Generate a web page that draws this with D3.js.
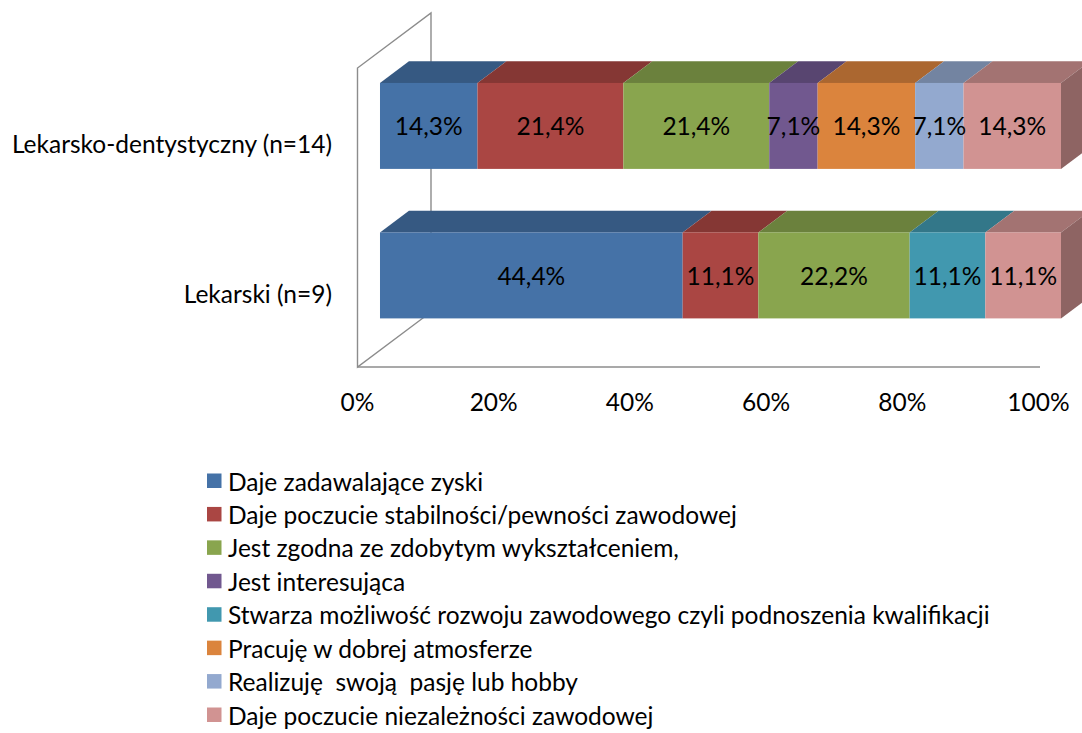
<!DOCTYPE html>
<html>
<head>
<meta charset="utf-8">
<script src="https://cdn.jsdelivr.net/npm/d3@7"></script>
<style>
  html, body { margin: 0; padding: 0; background: #fff; }
  svg { display: block; font-family: Lato, "Open Sans", sans-serif; }
  text { white-space: pre; }
</style>
</head>
<body>
<svg id="chart" width="1082" height="733"></svg>
<script>
// Study programmes (rows of the chart)
const categories = ["Lekarsko-dentystyczny (n=14)", "Lekarski (n=9)"];

// Reasons (series), in legend order
const seriesNames = [
  "Daje zadawalające zyski",
  "Daje poczucie stabilności/pewności zawodowej",
  "Jest zgodna ze zdobytym wykształceniem,",
  "Jest interesująca",
  "Stwarza możliwość rozwoju zawodowego czyli podnoszenia kwalifikacji",
  "Pracuję w dobrej atmosferze",
  "Realizuję  swoją  pasję lub hobby",
  "Daje poczucie niezależności zawodowej"
];

// Share of answers (%) per reason
const dentalValues  = [14.3, 21.4, 21.4, 7.1, 0, 14.3, 7.1, 14.3];
const medicalValues = [44.4, 11.1, 22.2, 0, 11.1, 0, 0, 11.1];

// Axis tick values (%)
const tickValues = [0, 20, 40, 60, 80, 100];

const seriesColors = ["#4572a7", "#aa4643", "#89a54e", "#71588f",
                      "#4198af", "#db843d", "#93a9cf", "#d19392"];

const fontSize = 24.5;

// ---- build table for the stack ----
const valuesByCategory = [dentalValues, medicalValues];
const table = categories.map((c, i) => {
  const row = { category: c };
  seriesNames.forEach((s, j) => { row[s] = valuesByCategory[i][j]; });
  return row;
});

const stacked = d3.stack()
  .keys(seriesNames)
  .offset(d3.stackOffsetExpand)(table);

const svg = d3.select("#chart");

// ---- 3D geometry ----
const plotTop = 68, plotBottom = 367;
const x = d3.scaleLinear().domain([0, 100]).range([357.5, 1038.5]);
const xs = d3.scaleLinear().domain([0, 1]).range([357.5, 1038.5]);
const y = d3.scaleBand().domain(categories)
  .range([plotTop, plotBottom]).paddingInner(0.425).paddingOuter(0.2125);

const depth = { dx: 73.5, dy: -55 };   // full depth of the box
const barFront = 0.306, barBack = 0.70; // bar position within the depth

const shade = (c, k) => {
  const r = d3.rgb(c);
  return d3.rgb(r.r * k, r.g * k, r.b * k).formatHex();
};

// ---- side wall and floor edge ----
const x0 = xs(0), x1 = xs(1);
const wallPath = [
  [x0, plotTop], [x0, plotBottom],
  [x0 + depth.dx, plotBottom + depth.dy], [x0 + depth.dx, plotTop + depth.dy]
];
svg.append("path")
  .attr("d", d3.line()(wallPath) + "Z")
  .attr("fill", "none")
  .attr("stroke", "#8c8c8c")
  .attr("stroke-width", 1.4);

svg.append("line")
  .attr("x1", x0).attr("x2", x1 + 1.5)
  .attr("y1", plotBottom).attr("y2", plotBottom)
  .attr("stroke", "#8c8c8c")
  .attr("stroke-width", 1.4);

// ---- bars ----
const fdx = depth.dx * barFront, fdy = depth.dy * barFront;
const bdx = depth.dx * barBack, bdy = depth.dy * barBack;
const polyLine = d3.line();

categories.forEach((cat, ci) => {
  const g = svg.append("g");
  const top = y(cat) + fdy, bottom = y(cat) + y.bandwidth() + fdy;
  const ddx = bdx - fdx, ddy = bdy - fdy;
  const segs = stacked
    .map((layer, si) => ({ si, a: layer[ci][0], b: layer[ci][1] }))
    .filter(s => s.b - s.a > 1e-9);

  segs.forEach((s, k) => {
    const left = xs(s.a) + fdx, right = xs(s.b) + fdx;
    const col = seriesColors[s.si];
    // top face
    g.append("path")
      .attr("d", polyLine([[left, top], [left + ddx, top + ddy],
                           [right + ddx, top + ddy], [right, top]]) + "Z")
      .attr("fill", shade(col, 0.78));
    // right side face on the last segment
    if (k === segs.length - 1) {
      g.append("path")
        .attr("d", polyLine([[right, top], [right + ddx, top + ddy],
                             [right + ddx, bottom + ddy], [right, bottom]]) + "Z")
        .attr("fill", shade(col, 0.68));
    }
    // front face
    g.append("rect")
      .attr("x", left).attr("y", top)
      .attr("width", right - left).attr("height", bottom - top)
      .attr("fill", col);
  });

  // value labels
  segs.forEach(s => {
    const left = xs(s.a) + fdx, right = xs(s.b) + fdx;
    const v = valuesByCategory[ci][s.si];
    g.append("text")
      .attr("x", (left + right) / 2)
      .attr("y", (top + bottom) / 2 + 1)
      .attr("dy", "0.35em")
      .attr("text-anchor", "middle")
      .attr("font-size", fontSize)
      .attr("fill", "#000")
      .text(v.toFixed(1).replace(".", ",") + "%");
  });
});

// ---- category labels ----
svg.append("g").selectAll("text")
  .data(categories)
  .join("text")
  .attr("x", 332)
  .attr("y", d => y(d) + y.bandwidth() / 2 + 2)
  .attr("dy", "0.35em")
  .attr("text-anchor", "end")
  .attr("font-size", fontSize)
  .attr("fill", "#000")
  .text(d => d);

// ---- x axis tick labels ----
svg.append("g").selectAll("text")
  .data(tickValues)
  .join("text")
  .attr("x", d => x(d))
  .attr("y", 402)
  .attr("dy", "0.35em")
  .attr("text-anchor", "middle")
  .attr("font-size", fontSize)
  .attr("fill", "#000")
  .text(d => d + "%");

// ---- legend ----
const legend = svg.append("g");
const legendY = d3.scalePoint().domain(seriesNames).range([481, 715]);
seriesNames.forEach((s, i) => {
  legend.append("rect")
    .attr("x", 207).attr("y", legendY(s) - 7.5)
    .attr("width", 14.5).attr("height", 14.5)
    .attr("fill", seriesColors[i]);
  legend.append("text")
    .attr("x", 228)
    .attr("y", legendY(s) + 1)
    .attr("dy", "0.35em")
    .attr("font-size", fontSize)
    .attr("fill", "#000")
    .text(s);
});
</script>
</body>
</html>
